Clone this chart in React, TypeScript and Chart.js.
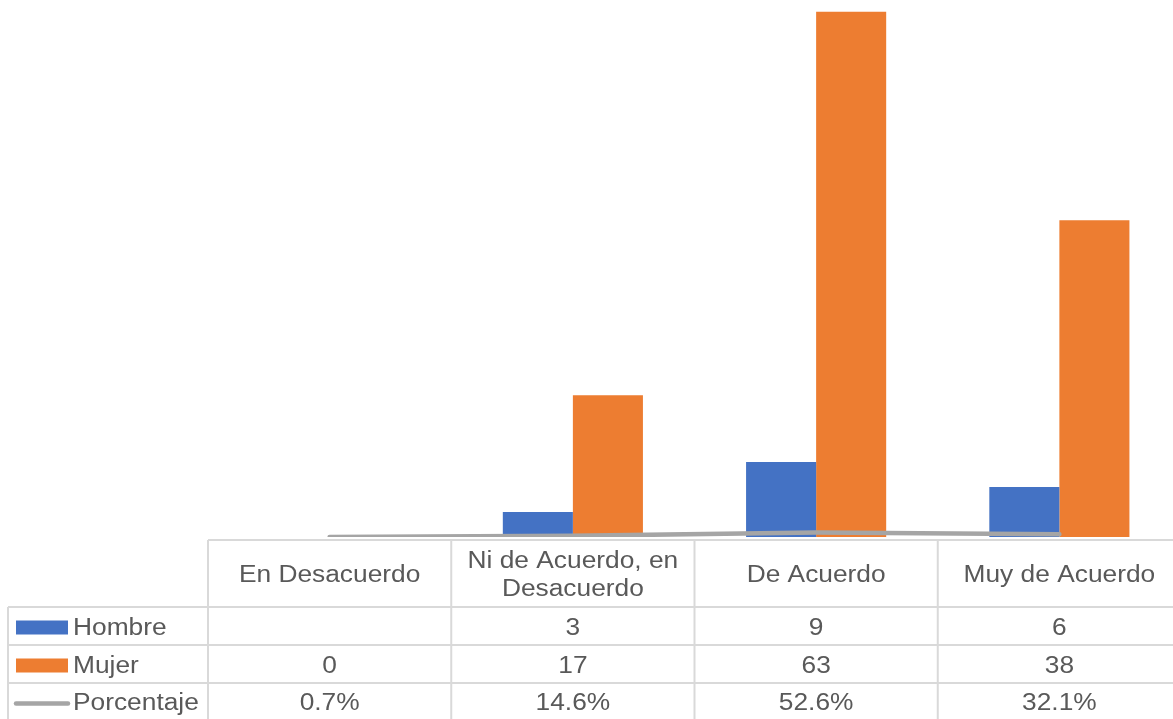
import React, { useEffect, useRef } from "react";
import { Chart, registerables } from "chart.js";

Chart.register(...registerables);

const categories = ["En Desacuerdo", "Ni de Acuerdo, en Desacuerdo", "De Acuerdo", "Muy de Acuerdo"];
const categoryLines = [["En Desacuerdo"], ["Ni de Acuerdo, en", "Desacuerdo"], ["De Acuerdo"], ["Muy de Acuerdo"]];
const hombre: (number | null)[] = [null, 3, 9, 6];
const mujer = [0, 17, 63, 38];
const porcentaje = [0.007, 0.146, 0.526, 0.321];
const seriesNames = ["Hombre", "Mujer", "Porcentaje"];

const BLUE = "#4472C4";
const ORANGE = "#ED7D31";
const GRAY = "#A5A5A5";
const TEXT = "#595959";
const GRID = "#D9D9D9";
const FONT = "'Liberation Sans', Arial, sans-serif";
const STRETCH = 1.12;

function drawText(ctx: CanvasRenderingContext2D, text: string, x: number, y: number, align: CanvasTextAlign) {
  ctx.save();
  ctx.translate(x, y);
  ctx.scale(STRETCH, 1);
  ctx.textAlign = align;
  ctx.fillText(text, 0, 0);
  ctx.restore();
}

const tablePlugin = {
  id: "dataTable",
  afterDraw(chart: any) {
    const ctx = chart.ctx as CanvasRenderingContext2D;
    const x = chart.scales.x;
    const area = chart.chartArea;
    const n = categories.length;
    const colW = (area.right - area.left) / n;
    const headerTop = area.bottom + 3;
    const headerBottom = 607;
    const rowH = 38;
    const rows = [headerBottom, headerBottom + rowH, headerBottom + 2 * rowH, 719];
    const legendLeft = 8;

    ctx.save();
    ctx.strokeStyle = GRID;
    ctx.lineWidth = 2;
    ctx.beginPath();
    ctx.moveTo(area.left, headerTop);
    ctx.lineTo(area.right, headerTop);
    for (let r = 0; r < 3; r++) {
      ctx.moveTo(legendLeft, rows[r]);
      ctx.lineTo(area.right, rows[r]);
    }
    for (let i = 0; i <= n; i++) {
      const xx = area.left + i * colW;
      ctx.moveTo(xx, headerTop);
      ctx.lineTo(xx, 719);
    }
    ctx.moveTo(legendLeft, headerBottom);
    ctx.lineTo(legendLeft, 719);
    ctx.stroke();

    ctx.fillStyle = TEXT;
    ctx.font = `23.5px ${FONT}`;
    ctx.textBaseline = "middle";
    const headerMid = (headerTop + headerBottom) / 2 + 2.5;
    categoryLines.forEach((lines, i) => {
      const cx = x.getPixelForValue(i);
      const lh = 28;
      const start = headerMid - ((lines.length - 1) * lh) / 2;
      lines.forEach((l, j) => drawText(ctx, l, cx, start + j * lh, "center"));
    });

    const cellText = [
      hombre.map((v) => (v === null ? "" : String(v))),
      mujer.map((v) => String(v)),
      porcentaje.map((v) => (v * 100).toFixed(1) + "%"),
    ];
    for (let r = 0; r < 3; r++) {
      const cy = (rows[r] + rows[r + 1]) / 2 + 2.5;
      for (let i = 0; i < n; i++) {
        drawText(ctx, cellText[r][i], x.getPixelForValue(i), cy, "center");
      }
      drawText(ctx, seriesNames[r], 73, cy, "left");
      if (r < 2) {
        ctx.fillStyle = r === 0 ? BLUE : ORANGE;
        ctx.fillRect(16, cy - 8, 52, 14);
        ctx.fillStyle = TEXT;
      } else {
        ctx.strokeStyle = GRAY;
        ctx.lineWidth = 4.5;
        ctx.lineCap = "round";
        ctx.beginPath();
        ctx.moveTo(16, cy);
        ctx.lineTo(68, cy);
        ctx.stroke();
      }
    }
    ctx.restore();
  },
};

export default function App() {
  const ref = useRef<HTMLCanvasElement>(null);
  useEffect(() => {
    document.body.style.margin = "0";
    document.body.style.overflow = "hidden";
    const chart = new Chart(ref.current as HTMLCanvasElement, {
      type: "bar",
      data: {
        labels: categories,
        datasets: [
          {
            type: "line",
            label: "Porcentaje",
            data: porcentaje,
            borderColor: GRAY,
            borderWidth: 4.5,
            pointRadius: 0,
            borderCapStyle: "round",
            order: 0,
          } as any,
          {
            label: "Hombre",
            data: hombre,
            backgroundColor: BLUE,
            categoryPercentage: 0.576,
            barPercentage: 1,
            order: 1,
          },
          {
            label: "Mujer",
            data: mujer,
            backgroundColor: ORANGE,
            categoryPercentage: 0.576,
            barPercentage: 1,
            order: 1,
          },
        ],
      },
      options: {
        animation: false,
        responsive: false,
        layout: { padding: { left: 208, right: 0, top: 0, bottom: 182 } },
        plugins: { legend: { display: false }, tooltip: { enabled: false } },
        scales: {
          x: { display: false, grid: { display: false } },
          y: { display: false, min: 0, max: 64.4, grid: { display: false } },
        },
      },
      plugins: [tablePlugin],
    });
    return () => chart.destroy();
  }, []);
  return (
    <div style={{ width: 1173, height: 719, overflow: "hidden" }}>
      <canvas ref={ref} width={1181} height={719} style={{ display: "block" }} />
    </div>
  );
}
